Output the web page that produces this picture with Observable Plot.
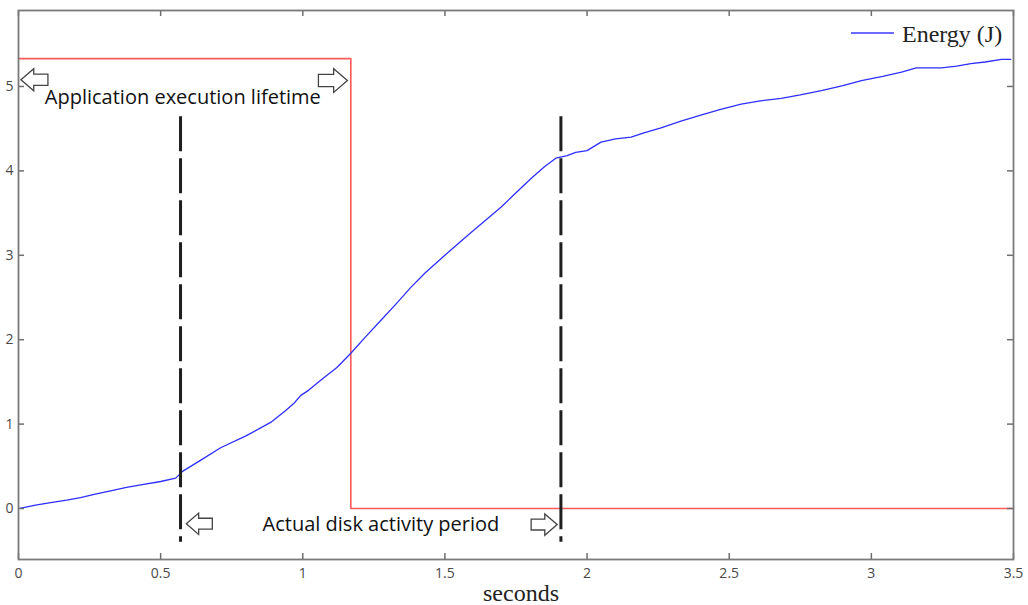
<!DOCTYPE html>
<html><head><meta charset="utf-8">
<script src="https://cdn.jsdelivr.net/npm/d3@7"></script>
<script src="https://cdn.jsdelivr.net/npm/@observablehq/plot@0.6"></script>
<style>
body{margin:0;background:#fff;}
#wrap{position:relative;width:1028px;height:605px;}
#legendText{position:absolute;left:902px;top:23px;line-height:22px;font-family:"Liberation Serif",serif;font-size:24px;color:#222;white-space:nowrap;}
#legendLine{position:absolute;left:851px;top:28px;}
</style></head><body>
<div id="wrap">
<svg id="legendLine" width="44" height="10"><line x1="0" x2="43" y1="5" y2="5" stroke="#3a3aff" stroke-width="1.5"/></svg>
<span id="legendText">Energy (J)</span>
</div>
<script>
// Energy curve (seconds, joules)
const time   = [0, 0.06, 0.113, 0.17, 0.218, 0.27, 0.324, 0.38, 0.43, 0.5, 0.553, 0.577, 0.64, 0.711, 0.8, 0.887, 0.94, 0.97, 0.993, 1.02, 1.063, 1.12, 1.169, 1.22, 1.275, 1.33, 1.38, 1.43, 1.486, 1.54, 1.592, 1.645, 1.697, 1.75, 1.803, 1.85, 1.89, 1.93, 1.96, 2.0, 2.049, 2.1, 2.155, 2.2, 2.26, 2.33, 2.40, 2.47, 2.542, 2.61, 2.683, 2.75, 2.824, 2.9, 2.965, 3.04, 3.106, 3.158, 3.2, 3.246, 3.3, 3.35, 3.4, 3.458, 3.49];
const energy = [0, 0.04, 0.07, 0.10, 0.13, 0.17, 0.21, 0.25, 0.28, 0.32, 0.36, 0.44, 0.57, 0.72, 0.86, 1.02, 1.16, 1.25, 1.34, 1.40, 1.52, 1.67, 1.84, 2.03, 2.23, 2.43, 2.62, 2.79, 2.96, 3.12, 3.27, 3.42, 3.57, 3.74, 3.91, 4.05, 4.15, 4.18, 4.22, 4.24, 4.34, 4.38, 4.40, 4.45, 4.51, 4.59, 4.66, 4.73, 4.79, 4.83, 4.86, 4.90, 4.95, 5.01, 5.07, 5.12, 5.17, 5.22, 5.22, 5.22, 5.24, 5.27, 5.29, 5.32, 5.32];
// Application execution lifetime (red step)
const lifetimeX = [0, 1.169, 3.5];
const lifetimeY = [5.33, 0, 0];
// Disk activity markers (black dashed)
const markerX = [0.57, 1.908];
const markerTop = 4.64, markerBottom = -0.40;
// Annotations
const noteText = ["Application execution lifetime", "Actual disk activity period"];
const noteX = [0.578, 1.275];
const noteY = [4.87, -0.19];
const arrowDir = ["left", "right", "left", "right"];
const arrowX = [0.056, 1.106, 0.636, 1.849];
const arrowY = [5.08, 5.07, -0.18, -0.19];
const arrowR = [13.5, 14.5, 13, 13];
// Axes
const xTicks = [0, 0.5, 1, 1.5, 2, 2.5, 3, 3.5];
const yTicks = [0, 1, 2, 3, 4, 5];
const xDomain = [0, 3.5];
const yDomain = [-0.604, 5.9];

const curve = time.map((t, i) => ({t, e: energy[i]}));
const step = lifetimeX.map((x, i) => ({x, y: lifetimeY[i]}));
const notes = noteText.map((text, i) => ({text, x: noteX[i], y: noteY[i]}));
const arrows = arrowDir.map((dir, i) => ({dir, x: arrowX[i], y: arrowY[i], r: arrowR[i]}));

// outlined block-arrow symbols
function blockArrow(sign) {
  return {
    draw(ctx, size) {
      const r = Math.sqrt(size / Math.PI);
      const head = 0.95 * r, hh = 0.82 * r, sh = 0.42 * r;
      const tip = sign * r, neck = sign * (r - head), tail = -sign * r;
      ctx.moveTo(tip, 0);
      ctx.lineTo(neck, -hh);
      ctx.lineTo(neck, -sh);
      ctx.lineTo(tail, -sh);
      ctx.lineTo(tail, sh);
      ctx.lineTo(neck, sh);
      ctx.lineTo(neck, hh);
      ctx.closePath();
    }
  };
}
const arrowLeft = blockArrow(-1), arrowRight = blockArrow(1);

const tickColor = "#6e6e6e";
const chart = Plot.plot({
  width: 1028, height: 605,
  marginLeft: 18, marginRight: 15, marginTop: 10, marginBottom: 46,
  style: {fontFamily: "'Open Sans', sans-serif", fontSize: "14px", color: "#4a4a4a", background: "#fff"},
  x: {domain: xDomain},
  y: {domain: yDomain},
  r: {type: "identity"},
  marks: [
    Plot.axisX(xTicks, {tickSize: 0, tickPadding: 9, tickFormat: d => String(d), label: null}),
    Plot.axisY(yTicks, {tickSize: 0, tickPadding: 5, tickFormat: d => String(d), label: null}),
    Plot.line(step, {x: "x", y: "y", curve: "step-after", stroke: "#ff5a5a", strokeWidth: 1.6}),
    Plot.line(curve, {x: "t", y: "e", stroke: "#2f2fff", strokeWidth: 1.3}),
    Plot.ruleX(markerX, {x: d => d, y1: markerTop, y2: markerBottom, stroke: "#1e1e1e", strokeWidth: 3, strokeDasharray: "35,7"}),
    Plot.text(notes, {x: "x", y: "y", text: "text", fontSize: 20, fontFamily: "'Open Sans', sans-serif", fill: "#111"}),
    Plot.dot(arrows, {x: "x", y: "y", r: "r", symbol: d => d.dir === "left" ? arrowLeft : arrowRight, fill: "#fff", stroke: "#444", strokeWidth: 1.3}),
    Plot.ruleX(xTicks, {x: d => d, y1: yDomain[0], y2: yDomain[0], insetTop: -6, stroke: tickColor, strokeWidth: 1.5}),
    Plot.ruleX(xTicks, {x: d => d, y1: yDomain[1], y2: yDomain[1], insetBottom: -6, stroke: tickColor, strokeWidth: 1.5}),
    Plot.ruleY(yTicks, {y: d => d, x1: xDomain[0], x2: xDomain[0], insetRight: -6, stroke: tickColor, strokeWidth: 1.5}),
    Plot.ruleY(yTicks, {y: d => d, x1: xDomain[1], x2: xDomain[1], insetLeft: -6, stroke: tickColor, strokeWidth: 1.5}),
    Plot.frame({stroke: "#7a7a7a", strokeWidth: 1.8}),
    Plot.text(["seconds"], {frameAnchor: "bottom", lineAnchor: "bottom", dx: 5, dy: 41, text: d => d, fontFamily: "'Liberation Serif', serif", fontSize: 24, fill: "#222"})
  ]
});
document.getElementById("wrap").prepend(chart);
</script>
</body></html>
